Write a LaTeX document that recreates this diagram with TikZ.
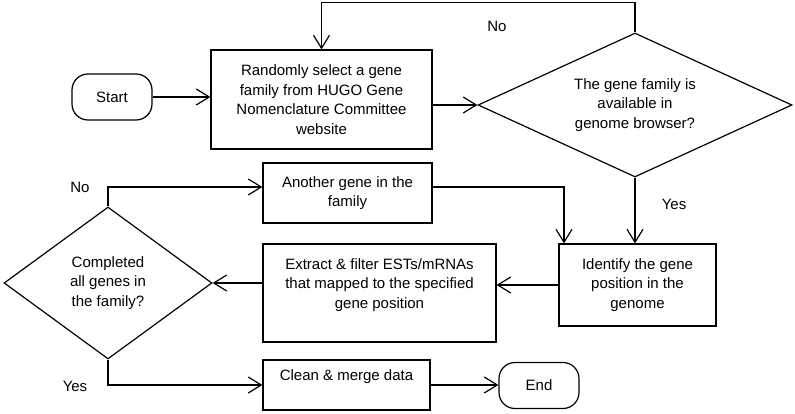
\documentclass[tikz,border=0pt]{standalone}
\usepackage{fontspec}
\setmainfont{Liberation Sans}
\usetikzlibrary{arrows.meta}
\usetikzlibrary{shapes.geometric}

\begin{document}
\begin{tikzpicture}[x=1pt, y=-1pt, line width=1.2pt,
    every node/.style={font=\fontsize{15}{19.5}\selectfont, align=center},
    terminal/.style={draw, rectangle, rounded corners=16pt, minimum width=80pt, minimum height=46pt},
    stepbox/.style={draw, rectangle, inner sep=0pt},
    decision/.style={draw, diamond, inner sep=0pt},
    arr/.style={-{Straight Barb[length=13pt, width=16pt]}}]
    \useasboundingbox (0,0) rectangle (795,414);
    % the nodes
    \node[terminal] (start) at (112,97) {Start};
    \node[stepbox, minimum width=221pt, minimum height=99pt] (random) at (321.5,99.5)
        {Randomly select a gene\\family from HUGO Gene\\Nomenclature Committee\\website};
    \node[decision, aspect=2.18, minimum width=314pt, minimum height=144pt] (avail) at (635,105)
        {The gene family is\\available in\\genome browser?};
    \node[stepbox, minimum width=157pt, minimum height=82pt] (ident) at (637.5,285)
        {Identify the gene\\position in the\\genome};
    \node[stepbox, minimum width=169pt, minimum height=60pt] (another) at (347.5,193)
        {Another gene in the\\family};
    \node[stepbox, minimum width=233pt, minimum height=98pt] (extract) at (379.5,293)
        {Extract \& filter ESTs/mRNAs\\that mapped to the specified\\gene position\\\mbox{}};
    \node[decision, aspect=1.37, minimum width=208pt, minimum height=152pt] (done) at (108,283)
        {Completed\\all genes in\\the family?};
    \node[stepbox, minimum width=167pt, minimum height=50pt] (clean) at (346.5,385)
        {Clean \& merge data\\\mbox{}};
    \node[terminal] (finish) at (539,385.5) {End};
    % labels
    \node (noa) at (497,26) {No};
    \node (yesa) at (674,204) {Yes};
    \node (nob) at (80,187) {No};
    \node (yesb) at (75,386) {Yes};
    % the connectors
    \draw[arr] (start.east) -- (start.east -| random.west);
    \draw[arr] (avail.west -| random.east) -- (avail.west);
    \draw[arr] (avail.north) -- ++(0,-30) -| (random.north);
    \draw[arr] (avail.south) -- (avail.south |- ident.north);
    \draw[arr] ([yshift=6pt]another.east) -| ([xshift=-73.5pt]ident.north);
    \draw[arr] (ident.west) -- (ident.west -| extract.east);
    \draw[arr] (extract.west |- done.east) -- (done.east);
    \draw[arr] (done.north) |- ([yshift=6pt]another.west);
    \draw[arr] (done.south) |- (clean.west);
    \draw[arr] (clean.east) -- (clean.east -| finish.west);
\end{tikzpicture}
\end{document}
